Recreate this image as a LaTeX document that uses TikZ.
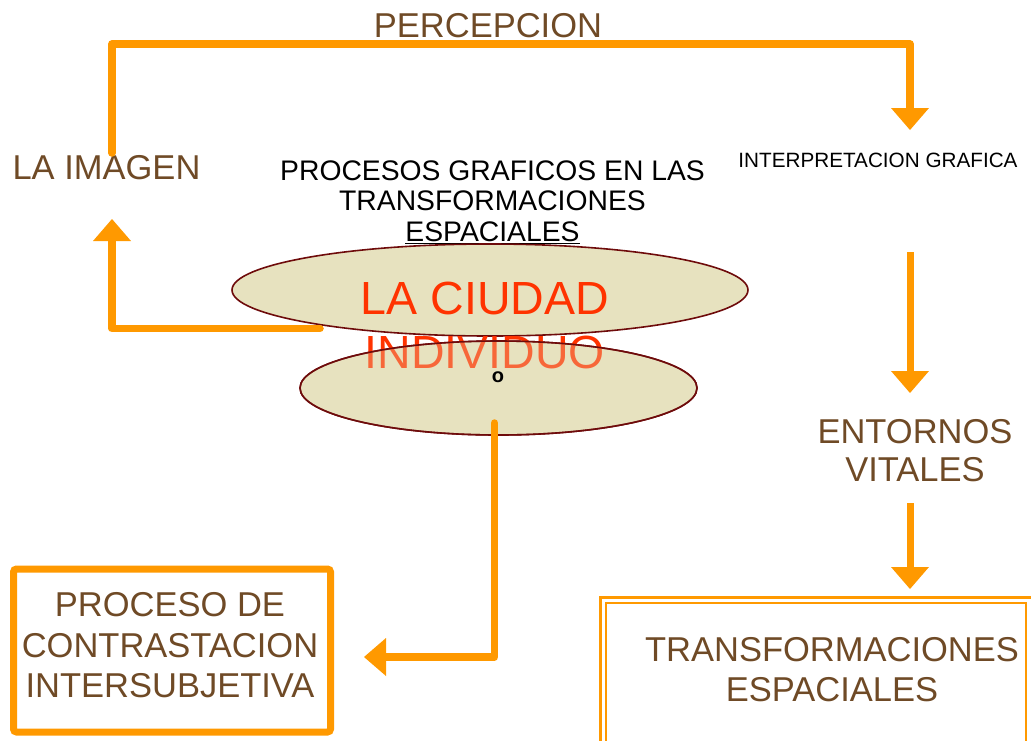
\documentclass[tikz,border=0pt]{standalone}
\usepackage{fontspec}
\setmainfont{Liberation Sans}
\usetikzlibrary{arrows.meta,shapes.geometric}
\definecolor{org}{HTML}{FF9900}
\definecolor{brn}{HTML}{6F4A26}
\definecolor{redt}{HTML}{FF3300}
\definecolor{ellf}{HTML}{E7E2BF}
\definecolor{elld}{HTML}{6E0B0B}
\tikzset{
  brtxt/.style={text=brn, inner sep=0pt, align=center, font=\fontsize{34.5}{40.5}\selectfont},
  conn/.style={draw=org, line width=7.5pt, line cap=round, line join=round,
    -{Triangle[length=22pt,width=38pt,line width=0pt]}},
  connb/.style={conn, line cap=butt},
  oval/.style={ellipse, draw=elld, line width=1.6pt, fill=ellf, inner sep=0pt},
}
\begin{document}
\begin{tikzpicture}[x=1pt,y=-1pt]
\useasboundingbox (0,0) rectangle (1031,740);
% texts
\node[brtxt] (perc) at (488,25.5) {PERCEPCION};
\node[brtxt] (img) at (106.5,168) {LA IMAGEN};
\node[inner sep=0pt, align=center, font=\fontsize{28.3}{30.5}\selectfont] (proc) at (492.5,202)
  {PROCESOS GRAFICOS EN LAS\\TRANSFORMACIONES\\\underline{ESPACIALES}};
\node[inner sep=0pt, font=\fontsize{20.7}{24}\selectfont] (interp) at (878,160.5) {INTERPRETACION GRAFICA};
% ellipses
\node[oval, minimum width=516pt, minimum height=92pt] (e1) at (490,290) {};
\node[oval, minimum width=397pt, minimum height=94pt] (e2) at (498.5,388) {};
\node[inner sep=0pt, align=center, text=redt, font=\fontsize{46.5}{54}\selectfont] (ciudad) at (485,325.5)
  {LA CIUDAD\\INDIVIDUO};
\node[oval, fill opacity=0.3, minimum width=397pt, minimum height=94pt] (e2top) at (e2) {};
\node[inner sep=0pt, font=\fontsize{20}{24}\selectfont\bfseries] (o) at (498,377) {o};
% right column
\node[brtxt, font=\fontsize{34.5}{38}\selectfont] (ent) at (915,451) {ENTORNOS\\VITALES};
\draw[org, line width=3pt] (600,597) rectangle (1034,760);
\draw[org, line width=2.2pt] (606,603) rectangle (1026,760);
\node[brtxt, font=\fontsize{34.5}{40}\selectfont] (trans) at (832,670) {TRANSFORMACIONES\\ESPACIALES};
% left box
\node[draw=org, line width=7pt, rounded corners=3pt, minimum width=317pt, minimum height=163pt, inner sep=0pt] (pbox) at (172,650.5) {};
\node[brtxt] (ptext) at (170,645.5) {PROCESO DE\\CONTRASTACION\\INTERSUBJETIVA};
% connector coordinates
\coordinate (a0) at (112,153);
\coordinate (a1) at (112,44);
\coordinate (a2) at (910,44);
\coordinate (a3) at (910,130);
\coordinate (b0) at (320,328.5);
\coordinate (b1) at (112,328.5);
\coordinate (b2) at (112,219);
\coordinate (c0) at (910,252);
\coordinate (c1) at (910,393);
\coordinate (d0) at (910,503);
\coordinate (d1) at (910,589);
\coordinate (f0) at (494.5,423);
\coordinate (f1) at (494.5,657);
\coordinate (f2) at (364,657);
\draw[conn] (a0) -- (a1) -- (a2) -- (a3);
\draw[conn] (b0) -- (b1) -- (b2);
\draw[connb, line width=7pt] (c0) -- (c1);
\draw[connb, line width=7pt] (d0) -- (d1);
\draw[conn] (f0) -- (f1) -- (f2);
\end{tikzpicture}
\end{document}
